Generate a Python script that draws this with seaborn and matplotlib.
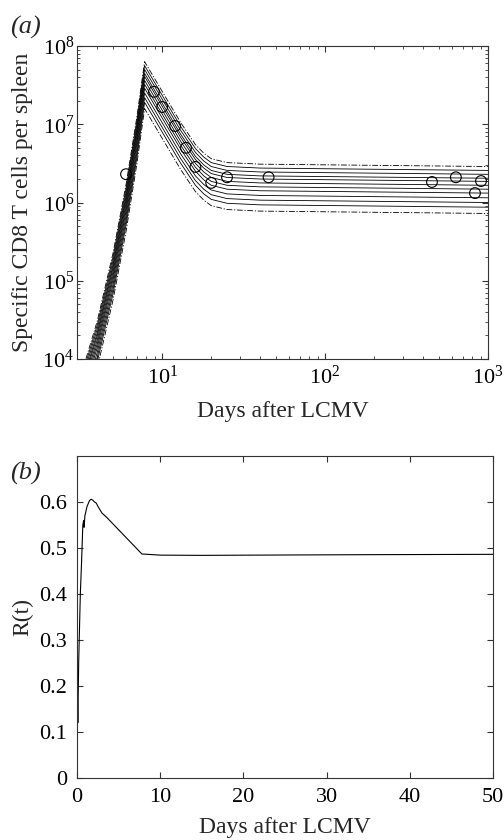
import numpy as np
import pandas as pd
import matplotlib
matplotlib.use('Agg')
import matplotlib.pyplot as plt
import seaborn as sns

# ---- panel (a): model fits, log10 of specific CD8 T cells per spleen ----
knot_days = [3, 4, 5, 6, 7, 7.8, 10, 13, 16, 18, 20, 25, 40, 1000]

upper_bound = [3.62, 4.49, 5.36, 6.23, 7.10, 7.80, 7.42, 7.02, 6.74, 6.63, 6.56, 6.51, 6.49, 6.46]
fit_1 = [3.57, 4.44, 5.31, 6.18, 7.05, 7.75, 7.37, 6.97, 6.69, 6.58, 6.51, 6.46, 6.44, 6.41]
fit_2 = [3.52, 4.39, 5.26, 6.13, 7.00, 7.70, 7.32, 6.92, 6.64, 6.53, 6.46, 6.41, 6.39, 6.36]
fit_3 = [3.47, 4.34, 5.21, 6.08, 6.95, 7.65, 7.27, 6.87, 6.59, 6.48, 6.41, 6.36, 6.34, 6.31]
fit_4 = [3.43, 4.30, 5.17, 6.04, 6.91, 7.61, 7.23, 6.83, 6.55, 6.44, 6.37, 6.32, 6.30, 6.27]
fit_5 = [3.38, 4.25, 5.12, 5.99, 6.86, 7.56, 7.18, 6.78, 6.50, 6.39, 6.32, 6.27, 6.25, 6.22]
fit_6 = [3.33, 4.20, 5.07, 5.94, 6.81, 7.51, 7.13, 6.73, 6.45, 6.34, 6.27, 6.22, 6.20, 6.17]
fit_7 = [3.28, 4.15, 5.02, 5.89, 6.76, 7.46, 7.08, 6.68, 6.40, 6.29, 6.22, 6.17, 6.15, 6.12]
fit_8 = [3.22, 4.09, 4.96, 5.83, 6.70, 7.40, 7.02, 6.62, 6.34, 6.23, 6.16, 6.11, 6.09, 6.06]
fit_9 = [3.16, 4.03, 4.90, 5.77, 6.64, 7.34, 6.96, 6.56, 6.28, 6.17, 6.10, 6.05, 6.03, 6.00]
fit_10 = [3.10, 3.97, 4.84, 5.71, 6.58, 7.28, 6.90, 6.50, 6.22, 6.11, 6.04, 5.99, 5.97, 5.94]
lower_bound = [3.02, 3.89, 4.76, 5.63, 6.50, 7.20, 6.82, 6.42, 6.14, 6.03, 5.96, 5.91, 5.89, 5.86]

# measured data points
obs_days = [6, 8.9, 10, 12, 14, 16, 20, 25, 45, 453, 635, 832, 906]
obs_cells = [2.3e6, 2.6e7, 1.66e7, 9.5e6, 5.0e6, 2.85e6, 1.78e6, 2.1e6, 2.1e6,
             1.83e6, 2.1e6, 1.32e6, 1.88e6]

# ---- panel (b): R(t) ----
r_days = [0, 0.05, 0.1, 0.2, 0.4, 0.55, 0.7, 0.8, 0.85, 0.95, 1.2, 1.5, 1.7,
          1.9, 2.1, 2.3, 2.5, 3.0, 3.6, 7.8, 10, 15, 25, 35, 50]
r_values = [0.0, 0.18, 0.12, 0.25, 0.40, 0.47, 0.55, 0.56, 0.545, 0.57, 0.59,
            0.603, 0.606, 0.604, 0.600, 0.598, 0.591, 0.576, 0.566, 0.487,
            0.4845, 0.484, 0.4848, 0.4855, 0.4862]

sns.set_style('ticks')
plt.rcParams.update({
    'font.family': ['Liberation Serif', 'DejaVu Serif'],
    'mathtext.fontset': 'custom',
    'mathtext.rm': 'Liberation Serif',
    'mathtext.it': 'Liberation Serif:italic',
    'xtick.direction': 'in', 'ytick.direction': 'in',
    'xtick.top': True, 'ytick.right': True,
    'axes.edgecolor': '#333333', 'axes.linewidth': 0.8,
    'xtick.color': '#333333', 'ytick.color': '#333333',
    'xtick.labelcolor': 'black', 'ytick.labelcolor': 'black',
    'xtick.labelsize': 16, 'ytick.labelsize': 16,
    'axes.labelsize': 17,
})

fig = plt.figure(figsize=(5.04, 8.4), dpi=100)
ax1 = fig.add_axes([77 / 504, 1 - 359 / 840, (488 - 77) / 504, (359 - 46) / 840])
ax2 = fig.add_axes([77 / 504, 1 - 778 / 840, (493 - 77) / 504, (778 - 456) / 840])

# panel (a)
curves = [upper_bound, fit_1, fit_2, fit_3, fit_4, fit_5, fit_6, fit_7,
          fit_8, fit_9, fit_10, lower_bound]
for i, c in enumerate(curves):
    ls = (0, (7, 2, 1.5, 2)) if i in (0, len(curves) - 1) else '-'
    sns.lineplot(x=knot_days, y=10 ** np.array(c), ax=ax1, color='black',
                 lw=0.6, linestyle=ls, sort=False)
sns.scatterplot(x=obs_days, y=obs_cells, ax=ax1, marker='o', s=60,
                facecolor='none', edgecolor='black', linewidth=0.8, zorder=5)
ax1.set_xscale('log')
ax1.set_yscale('log')
ax1.set_xlim(3, 1000)
ax1.set_ylim(1e4, 1e8)
ax1.set_xlabel('Days after LCMV')
ax1.set_ylabel('Specific CD8 T cells per spleen')
ax1.xaxis.set_label_coords(0.5, -0.135)
ax1.yaxis.set_label_coords(-0.108, 0.5)
ax1.tick_params(which='major', length=4)
ax1.tick_params(which='minor', length=2.5)
ax1.tick_params(axis='x', which='both', pad=5)
ax1.tick_params(axis='y', which='both', pad=2)

# panel (b)
sns.lineplot(x=r_days, y=r_values, ax=ax2, color='black', lw=0.8, sort=False)
ax2.set_xlim(0, 50)
ax2.set_ylim(0, 0.7)
ax2.set_xticks([0, 10, 20, 30, 40, 50])
ax2.set_yticks([0, 0.1, 0.2, 0.3, 0.4, 0.5, 0.6])
ax2.set_yticklabels(['0', '0.1', '0.2', '0.3', '0.4', '0.5', '0.6'])
ax2.set_xlabel('Days after LCMV')
ax2.set_ylabel('R(t)')
ax2.xaxis.set_label_coords(0.5, -0.122)
ax2.yaxis.set_label_coords(-0.105, 0.5)
ax2.tick_params(length=4, pad=7)

fig.text(10 / 504, 1 - 34 / 840, '(a)', fontsize=19, style='italic')
fig.text(10 / 504, 1 - 480 / 840, '(b)', fontsize=19, style='italic')

fig.savefig('out.png', dpi=100)
